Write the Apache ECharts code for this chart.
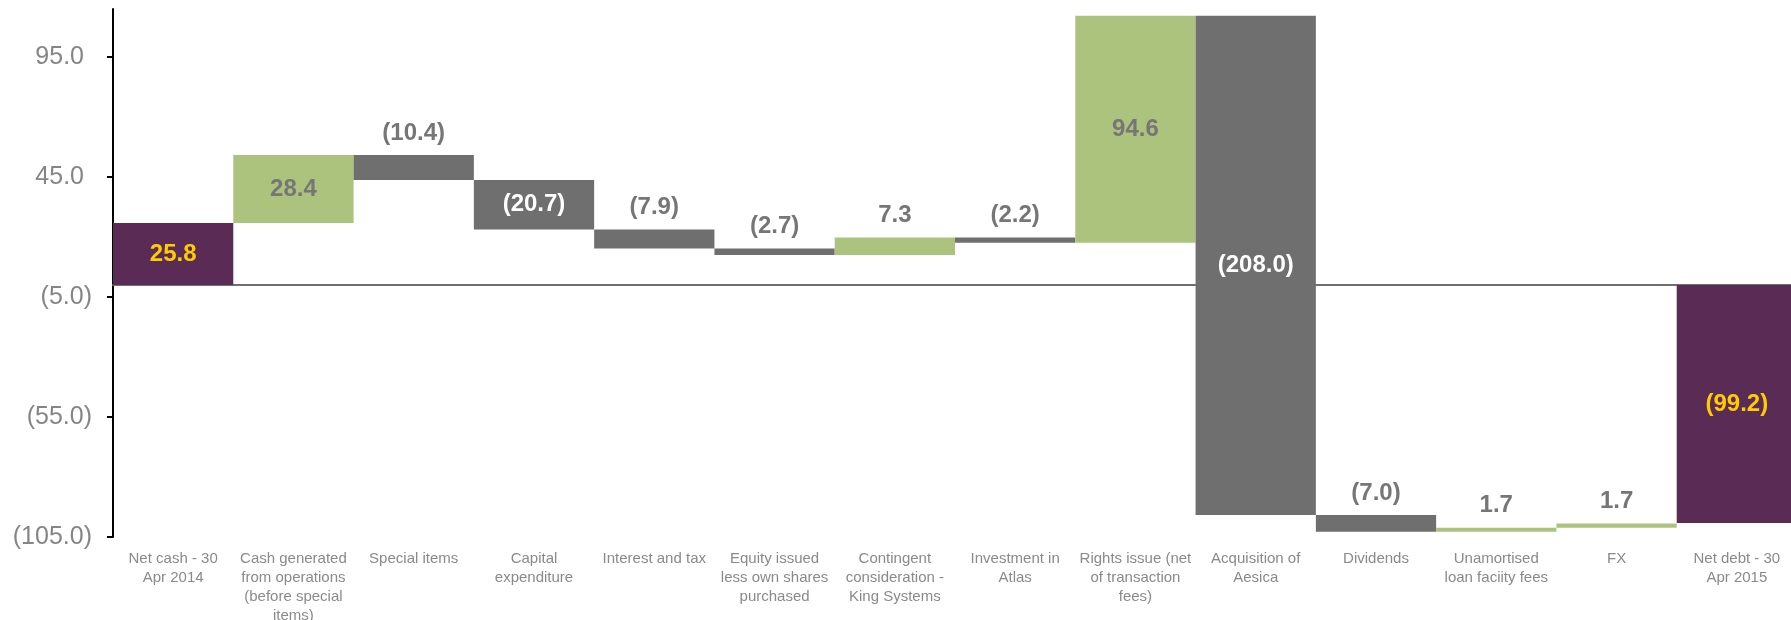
<!DOCTYPE html>
<html>
<head>
<meta charset="utf-8">
<script src="https://cdn.jsdelivr.net/npm/echarts@6/dist/echarts.min.js"></script>
<style>
  html, body { margin: 0; padding: 0; background: #fff; }
  #chart { width: 1791px; height: 620px; }
</style>
</head>
<body>
<div id="chart"></div>
<script>
// categories (line breaks as in the original labels)
const categories = [
  'Net cash - 30\nApr 2014',
  'Cash generated\nfrom operations\n(before special\nitems)',
  'Special items',
  'Capital\nexpenditure',
  'Interest and tax',
  'Equity issued\nless own shares\npurchased',
  'Contingent\nconsideration -\nKing Systems',
  'Investment in\nAtlas',
  'Rights issue (net\nof transaction\nfees)',
  'Acquisition of\nAesica',
  'Dividends',
  'Unamortised\nloan faciity fees',
  'FX',
  'Net debt - 30\nApr 2015'
]
// movements; first and last are totals
const values = [25.8, 28.4, -10.4, -20.7, -7.9, -2.7, 7.3, -2.2, 94.6, -208.0, -7.0, 1.7, 1.7, -99.2]
const isTotal = [true, false, false, false, false, false, false, false, false, false, false, false, false, true]
const yTicks = [-105, -55, -5, 45, 95]

const PURPLE = '#5a2b54'
const GREEN = '#abc37d'
const GREY = '#6f6f6f'

function fmt(v) {
  return v < 0 ? '(' + Math.abs(v).toFixed(1) + ')' : v.toFixed(1)
}

// build [index, low, high, value] rows
const rows = []
let running = 0
values.forEach((v, i) => {
  if (isTotal[i]) {
    rows.push([i, Math.min(0, v), Math.max(0, v), v])
    running = v
  } else {
    const start = running
    running = running + v
    rows.push([i, Math.min(start, running), Math.max(start, running), v])
  }
})

const chart = echarts.init(document.getElementById('chart'))
chart.setOption({
  animation: false,
  grid: {
    left: 113,
    top: 9,
    width: 1684,
    height: 528,
    outerBoundsMode: 'none'
  },
  xAxis: [
    {
      type: 'category',
      data: categories,
      axisLine: { show: false, onZero: false },
      axisTick: { show: false },
      axisLabel: {
        interval: 0,
        margin: 12,
        color: '#8a8a8a',
        fontFamily: 'Liberation Sans',
        fontSize: 15,
        lineHeight: 19
      }
    },
    {
      // zero line only
      type: 'category',
      data: categories,
      position: 'bottom',
      axisLine: { show: true, onZero: true, lineStyle: { color: '#6f6f6f', width: 2 } },
      axisTick: { show: false },
      axisLabel: { show: false }
    }
  ],
  yAxis: {
    type: 'value',
    min: -105,
    max: 115,
    splitLine: { show: false },
    axisLine: { show: true, lineStyle: { color: '#000', width: 2 } },
    axisTick: {
      show: true,
      length: 6,
      customValues: yTicks,
      lineStyle: { color: '#000', width: 2 }
    },
    axisLabel: {
      customValues: yTicks,
      margin: 21,
      color: '#858585',
      fontFamily: 'Liberation Sans',
      fontSize: 25,
      // positives keep room for the closing bracket, like the accounting format
      formatter: v => v < 0 ? fmt(v) : '{p|' + fmt(v) + '}',
      rich: {
        p: {
          color: '#858585',
          fontFamily: 'Liberation Sans',
          fontSize: 25,
          padding: [0, 8, 0, 0]
        }
      }
    }
  },
  series: [{
    type: 'custom',
    xAxisIndex: 0,
    data: rows,
    renderItem: function (params, api) {
      const i = api.value(0)
      const v = api.value(3)
      const top = api.coord([i, api.value(2)])
      const bot = api.coord([i, api.value(1)])
      const w = api.size([1, 0])[0]
      const h = bot[1] - top[1]
      let fill = v >= 0 ? GREEN : GREY
      let textFill = '#767676'
      if (isTotal[i]) { fill = PURPLE; textFill = '#ffcc00' }
      else if (v < 0 && h > 40) textFill = '#ffffff'
      const inside = h > 40
      return {
        type: 'group',
        children: [
          {
            type: 'rect',
            shape: { x: top[0] - w / 2, y: top[1], width: w, height: Math.max(h, 1) },
            style: { fill: fill }
          },
          {
            type: 'text',
            x: top[0],
            y: inside ? top[1] + h / 2 : top[1] - 22,
            style: {
              text: fmt(v),
              fill: textFill,
              font: 'bold 24px "Liberation Sans"',
              align: 'center',
              verticalAlign: 'middle'
            }
          }
        ]
      }
    }
  }]
})
</script>
</body>
</html>
